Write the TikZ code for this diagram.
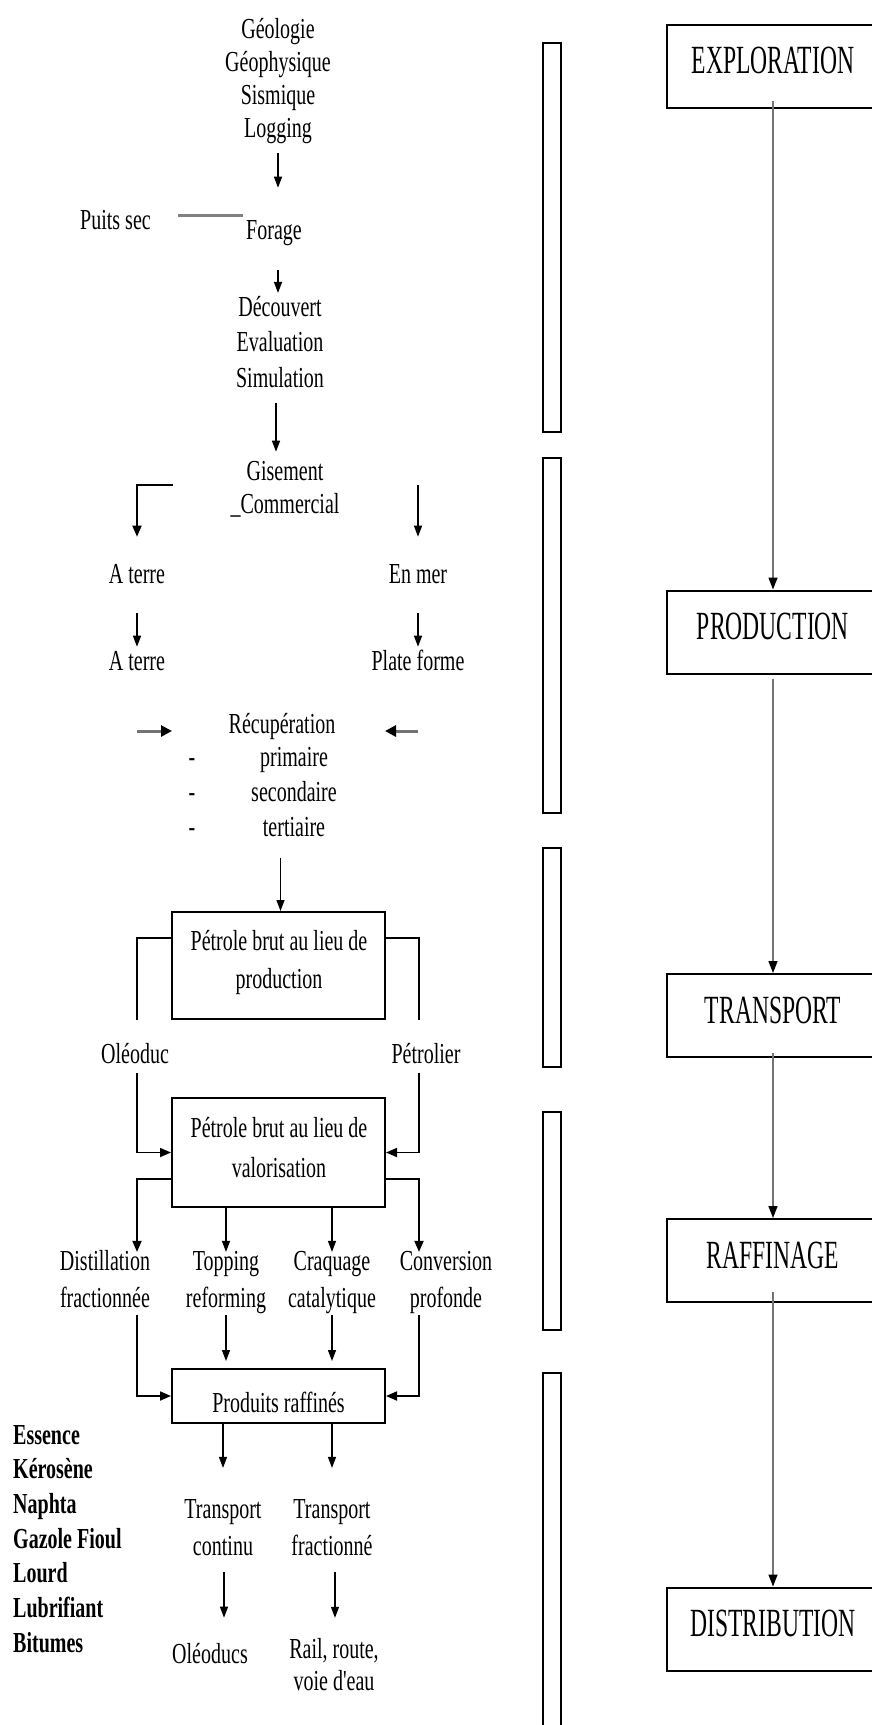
\documentclass[tikz,border=0pt]{standalone}
\usepackage{fontspec}
\newfontfamily\lfont{Liberation Serif}[FakeStretch=0.69]
\newfontfamily\rfont{Liberation Serif}[FakeStretch=0.59]
\usetikzlibrary{calc,arrows.meta}
\newcommand{\ml}[2][c]{\begin{tabular}[t]{@{}#1@{}}#2\end{tabular}}
\tikzset{
  lt/.style={font=\lfont\fontsize{29}{#1}\selectfont, inner sep=0pt, anchor=base},
  lt/.default=33,
  rbox/.style={draw, line width=2pt, font=\rfont\fontsize{40}{48}\selectfont,
    minimum width=212pt, minimum height=83pt, text height=27pt, text depth=12pt, inner sep=0pt},
  lbox/.style={draw, line width=2pt, minimum width=213pt, inner sep=0pt},
  arr/.style={line width=1.3pt, -{Triangle[length=11pt,width=8pt]}},
  arrb/.style={line width=1.8pt, -{Triangle[length=11pt,width=9pt]}},
  rarr/.style={line width=1.4pt, draw=black!55, -{Triangle[length=12pt,width=9pt,color=black]}},
  garr/.style={line width=3pt, draw=black!55, -{Triangle[length=11pt,width=11pt,color=black]}},
  gline/.style={line width=3pt, draw=black!50},
  ln/.style={line width=1.8pt},
  bar/.style={line width=2pt},
}
\begin{document}
\begin{tikzpicture}[x=1pt,y=-1pt]
\useasboundingbox (0,0) rectangle (871,1725);
\fill[white] (0,0) rectangle (871,1725);

% ---- left column texts
\node[lt] (geo) at (278,38) {\ml{Géologie\\Géophysique\\Sismique\\Logging}};
\node[lt, anchor=base west] (puits) at (80,229) {\ml{Puits sec}};
\node[lt] (forage) at (274,239) {\ml{Forage}};
\node[lt=35.5] (deco) at (280,316) {\ml{Découvert\\Evaluation\\Simulation}};
\node[lt] (gis) at (285,480) {\ml{Gisement\\\_Commercial}};
\node[lt] (at1) at (137,583) {\ml{A terre}};
\node[lt] (enmer) at (418,583) {\ml{En mer}};
\node[lt] (at2) at (137,670) {\ml{A terre}};
\node[lt] (pf) at (418,670) {\ml{Plate forme}};
\node[lt] (recup) at (282,733) {\ml{Récupération}};
\node[lt=35] (recd) at (192,766) {\ml{-\\-\\-}};
\node[lt=35] (recw) at (294,766) {\ml{primaire\\secondaire\\tertiaire}};

\node[lbox, minimum height=107pt] (box1) at (278.5,965.5) {};
\node[lt=38] (box1t) at (279,950) {\ml{Pétrole brut au lieu de\\production}};
\node[lt] (oleo) at (135,1063) {\ml{Oléoduc}};
\node[lt] (petr) at (426,1063) {\ml{Pétrolier}};
\node[lbox, minimum height=109pt] (box2) at (278.5,1152.5) {};
\node[lt=40] (box2t) at (279,1137) {\ml{Pétrole brut au lieu de\\valorisation}};

\node[lt=37] (dist) at (105,1270) {\ml{Distillation\\fractionnée}};
\node[lt=37] (topp) at (226,1270) {\ml{Topping\\reforming}};
\node[lt=37] (craq) at (332,1270) {\ml{Craquage\\catalytique}};
\node[lt=37] (conv) at (446,1270) {\ml{Conversion\\profonde}};

\node[lbox, minimum height=54pt, font=\lfont\fontsize{29}{33}\selectfont,
      text height=32pt, text depth=0pt] (box3) at (278.5,1396) {Produits raffinés};

\node[lt=37] (tc) at (223,1518) {\ml{Transport\\continu}};
\node[lt=37] (tf) at (332,1518) {\ml{Transport\\fractionné}};
\node[lt] (oleos) at (210,1663) {\ml{Oléoducs}};
\node[lt=32] (rail) at (334,1658) {\ml{Rail, route,\\voie d'eau}};

\node[lt, anchor=base west, font=\lfont\bfseries\fontsize{29}{34.7}\selectfont] (prods) at (13,1444)
  {\ml[l]{Essence\\Kérosène\\Naphta\\Gazole Fioul\\Lourd\\Lubrifiant\\Bitumes}};

% ---- left column connectors
\draw[arr] ($(geo.south)+(0,6)$) -- ($(geo.south |- forage.north)+(0,-28)$);
\draw[gline] ($(puits.east)+(27,-7)$) -- ($(forage.west)+(-3,-17)$);
\draw[arr] ($(geo.south |- forage.south)+(0,21)$) -- ($(geo.south |- deco.north)+(0,2)$);
\draw[arr] ($(deco.south)+(-4,5)$) -- ($(deco.south |- gis.north)+(-4,-5)$);
\coordinate (gisL) at (173,485);
\coordinate (gisR) at (418,485);
\draw[arrb] (gisL) -| ($(at1.north)+(0,-23)$);
\draw[arr] (gisR) -- ($(enmer.north)+(0,-23)$);
\draw[arr] ($(at1.south)+(0,20)$) -- (at2.north);
\draw[arr] ($(enmer.south)+(0,20)$) -- (pf.north);
\coordinate (rl) at (137,731); \coordinate (rle) at (172,731);
\coordinate (rr) at (418,731); \coordinate (rre) at (385,731);
\draw[garr] (rl) -- (rle);
\draw[garr] (rr) -- (rre);
\draw[arr] ($(box1.north |- recw.south)+(2,11)$) -- ($(box1.north)+(2,0)$);
\draw[ln] ($(box1.west)+(0,-27.5)$) -| ($(oleo.north)+(2,-20)$);
\draw[ln] ($(box1.east)+(0,-27.5)$) -| ($(petr.north)+(-7,-20)$);
\draw[arrb] ($(oleo.south)+(2,0)$) |- (box2.west);
\draw[arrb] ($(petr.south)+(-7,0)$) |- (box2.east);
\draw[arrb] ($(box2.west)+(0,26.5)$) -| ($(dist.north)+(32,8)$);
\draw[arrb] ($(box2.east)+(0,26.5)$) -| ($(conv.north)+(-27,8)$);
\draw[arr] (box2.south -| topp.north) -- ($(topp.north)+(0,8)$);
\draw[arr] (box2.south -| craq.north) -- ($(craq.north)+(0,8)$);
\draw[arrb] ($(dist.south)+(32,-3)$) |- (box3.west);
\draw[arrb] ($(conv.south)+(-27,-3)$) |- (box3.east);
\draw[arr] ($(topp.south)+(0,-3)$) -- ($(box3.north -| topp.south)+(0,-7)$);
\draw[arr] ($(craq.south)+(0,-3)$) -- ($(box3.north -| craq.south)+(0,-7)$);
\draw[arr] (box3.south -| tc.north) -- ($(tc.north)+(0,-24)$);
\draw[arr] (box3.south -| tf.north) -- ($(tf.north)+(0,-24)$);
\draw[arr] ($(tc.south)+(1,6)$) -- ($(tc.south |- oleos.north)+(1,-22)$);
\draw[arr] ($(rail.north |- tf.south)+(1,6)$) -- ($(rail.north)+(1,-17.6)$);

% ---- bars
\draw[bar] (543,43) rectangle (561,432);
\draw[bar] (543,458) rectangle (561,813);
\draw[bar] (543,848) rectangle (561,1067);
\draw[bar] (543,1112) rectangle (561,1330);
\draw[bar] (543,1373) rectangle (561,1740);

% ---- right column
\node[rbox] (expl) at (773,66) {EXPLORATION};
\node[rbox] (prod) at (773,632) {PRODUCTION};
\node[rbox] (trans) at (773,1015.5) {TRANSPORT};
\node[rbox] (raff) at (773,1260.5) {RAFFINAGE};
\node[rbox] (distr) at (773,1629) {DISTRIBUTION};
\draw[rarr] ($(expl.south)+(0,-8)$) -- (prod.north);
\draw[rarr] ($(prod.south)+(0,4)$) -- (trans.north);
\draw[rarr] ($(trans.south)+(0,-5)$) -- (raff.north);
\draw[rarr] ($(raff.south)+(0,-11)$) -- (distr.north);
\end{tikzpicture}
\end{document}
